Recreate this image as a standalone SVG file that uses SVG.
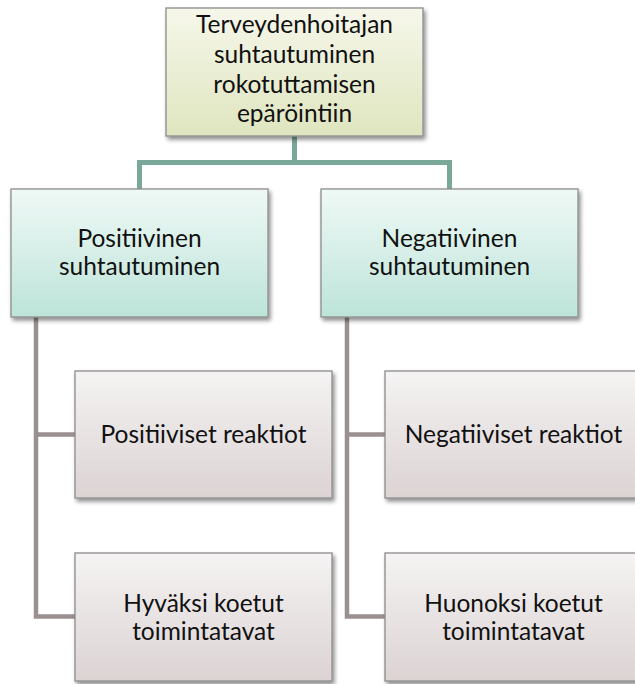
<svg xmlns="http://www.w3.org/2000/svg" width="635" height="684" viewBox="0 0 635 684">
<defs>
<linearGradient id="gTop" x1="0" y1="0" x2="0" y2="1"><stop offset="0" stop-color="#f6f7ea"/><stop offset="1" stop-color="#dfe5bf"/></linearGradient>
<linearGradient id="gMid" x1="0" y1="0" x2="0" y2="1"><stop offset="0" stop-color="#eff9f6"/><stop offset="1" stop-color="#bde4d9"/></linearGradient>
<linearGradient id="gLeaf" x1="0" y1="0" x2="0" y2="1"><stop offset="0" stop-color="#f5f3f3"/><stop offset="1" stop-color="#dcd3d3"/></linearGradient>
<filter id="sh" x="-10%" y="-10%" width="125%" height="130%"><feGaussianBlur in="SourceAlpha" stdDeviation="2"/><feOffset dx="2" dy="3"/><feComponentTransfer><feFuncA type="linear" slope="0.45"/></feComponentTransfer><feMerge><feMergeNode/><feMergeNode in="SourceGraphic"/></feMerge></filter>
</defs>
<style>
.box{stroke:#8c8c8c;stroke-width:1.3;filter:url(#sh)}
.t{font-family:Lato,"Open Sans","Liberation Sans",sans-serif;font-size:24.5px;fill:#111;text-anchor:middle}
.cg{fill:none;stroke:#7aa898;stroke-width:5}
.cr{fill:none;stroke:#9b9090;stroke-width:4.5}
</style>
<g id="connectors">
<path class="cg" d="M294.5 136 V162.5 M139.5 189 V162.5 H449.5 V189"/>
<path class="cr" d="M36 317 V616.5 H75 M36 434.5 H75"/>
<path class="cr" d="M347 317 V616.5 H385 M347 434.5 H385"/>
</g>
<g id="root">
<rect class="box" x="166" y="8" width="257" height="128" fill="url(#gTop)"/>
<text class="t" x="294.5" y="33">Terveydenhoitajan</text>
<text class="t" x="294.5" y="63">suhtautuminen</text>
<text class="t" x="294.5" y="93">rokotuttamisen</text>
<text class="t" x="294.5" y="122">epäröintiin</text>
</g>
<g id="pos">
<rect class="box" x="11" y="189" width="257" height="128" fill="url(#gMid)"/>
<text class="t" x="139.5" y="247">Positiivinen</text>
<text class="t" x="139.5" y="275">suhtautuminen</text>
</g>
<g id="neg">
<rect class="box" x="321" y="189" width="257" height="128" fill="url(#gMid)"/>
<text class="t" x="449.5" y="247">Negatiivinen</text>
<text class="t" x="449.5" y="275">suhtautuminen</text>
</g>
<g id="posReak">
<rect class="box" x="75" y="371" width="257" height="127" fill="url(#gLeaf)"/>
<text class="t" x="203.5" y="443">Positiiviset reaktiot</text>
</g>
<g id="hyvaksi">
<rect class="box" x="75" y="553" width="257" height="128" fill="url(#gLeaf)"/>
<text class="t" x="203.5" y="612">Hyväksi koetut</text>
<text class="t" x="203.5" y="640">toimintatavat</text>
</g>
<g id="negReak">
<rect class="box" x="385" y="371" width="257" height="127" fill="url(#gLeaf)"/>
<text class="t" x="513.5" y="443">Negatiiviset reaktiot</text>
</g>
<g id="huonoksi">
<rect class="box" x="385" y="553" width="257" height="128" fill="url(#gLeaf)"/>
<text class="t" x="513.5" y="612">Huonoksi koetut</text>
<text class="t" x="513.5" y="640">toimintatavat</text>
</g>
</svg>
